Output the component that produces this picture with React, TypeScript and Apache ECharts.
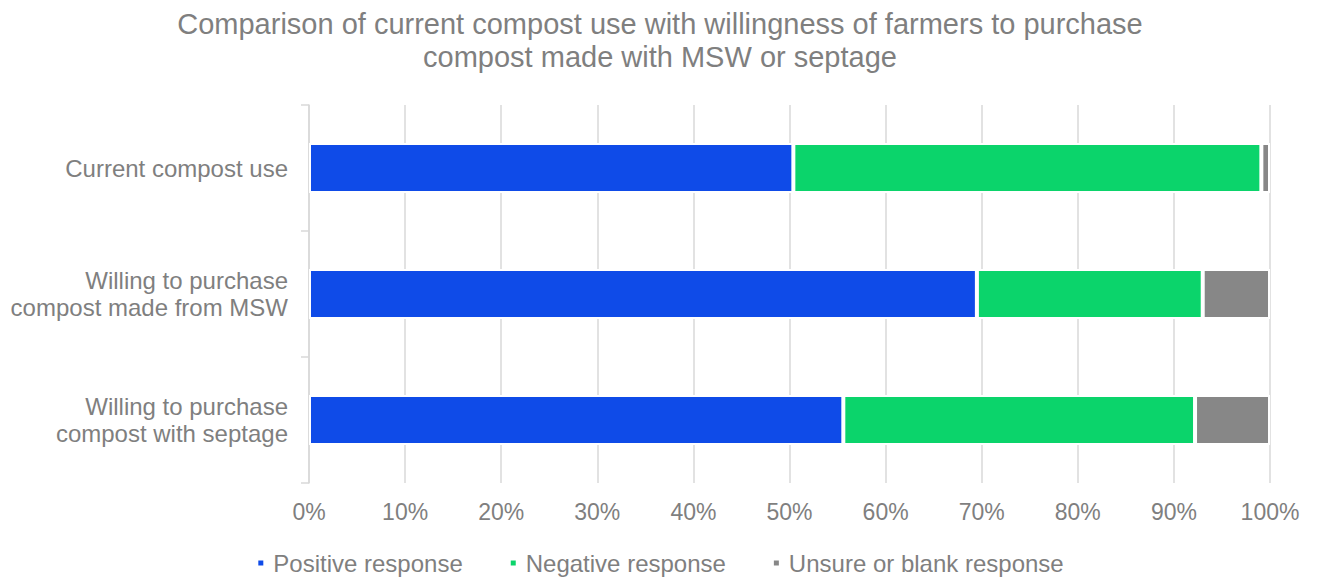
import React, { useEffect, useRef } from "react";
import * as echarts from "echarts";

const categories = [
  "Current compost use",
  "Willing to purchase\ncompost made from MSW",
  "Willing to purchase\ncompost with septage",
];
const positive = [50.4, 69.5, 55.6];
const negative = [48.7, 23.5, 36.6];
const unsure = [0.9, 7.0, 7.8];
const xTicks = [0, 10, 20, 30, 40, 50, 60, 70, 80, 90, 100];

const FONT = "'Liberation Sans', Arial, sans-serif";
const TEXT = "#7f7f7f";
const GRID = "#d9d9d9";

export default function App() {
  const ref = useRef<HTMLDivElement>(null);

  useEffect(() => {
    if (!ref.current) return;
    const chart = echarts.init(ref.current, undefined, { renderer: "svg" });
    const seriesDef = [
      { name: "Positive response", data: positive, color: "#0f4be8" },
      { name: "Negative response", data: negative, color: "#0bd46b" },
      { name: "Unsure or blank response", data: unsure, color: "#878787" },
    ];
    chart.setOption({
      animation: false,
      textStyle: { fontFamily: FONT },
      title: {
        text: "Comparison of current compost use with willingness of farmers to purchase\ncompost made with MSW or septage",
        left: "center",
        top: 2,
        textStyle: {
          fontFamily: FONT,
          fontSize: 29,
          fontWeight: "normal",
          color: TEXT,
          lineHeight: 33,
        },
      },
      legend: {
        bottom: -2,
        left: "center",
        icon: "rect",
        itemWidth: 7,
        itemHeight: 7,
        itemGap: 46,
        textStyle: { fontFamily: FONT, fontSize: 24, color: TEXT, padding: [0, 0, 0, 4] },
        data: seriesDef.map((s) => s.name),
      },
      grid: { left: 309, right: 50, top: 105, bottom: 95, containLabel: false },
      xAxis: {
        type: "value",
        min: xTicks[0],
        max: xTicks[xTicks.length - 1],
        interval: 10,
        axisLine: { show: false },
        axisTick: { show: false },
        splitLine: { lineStyle: { color: GRID, width: 1.5 } },
        axisLabel: {
          formatter: "{value}%",
          fontFamily: FONT,
          fontSize: 23,
          color: TEXT,
          margin: 17,
        },
      },
      yAxis: {
        type: "category",
        inverse: true,
        data: categories,
        axisLine: { show: true, lineStyle: { color: GRID, width: 1.5 } },
        axisTick: { show: true, length: 8, lineStyle: { color: GRID, width: 1.5 } },
        axisLabel: {
          fontFamily: FONT,
          fontSize: 24,
          color: TEXT,
          margin: 21,
          lineHeight: 27,
          align: "right",
        },
      },
      series: seriesDef.map((s) => ({
        type: "bar",
        name: s.name,
        stack: "total",
        data: s.data,
        barWidth: 50,
        itemStyle: { color: s.color, borderColor: "#ffffff", borderWidth: 2 },
      })),
    });
    return () => chart.dispose();
  }, []);

  return <div ref={ref} style={{ width: 1320, height: 578, position: "absolute", left: 0, top: 0 }} />;
}
